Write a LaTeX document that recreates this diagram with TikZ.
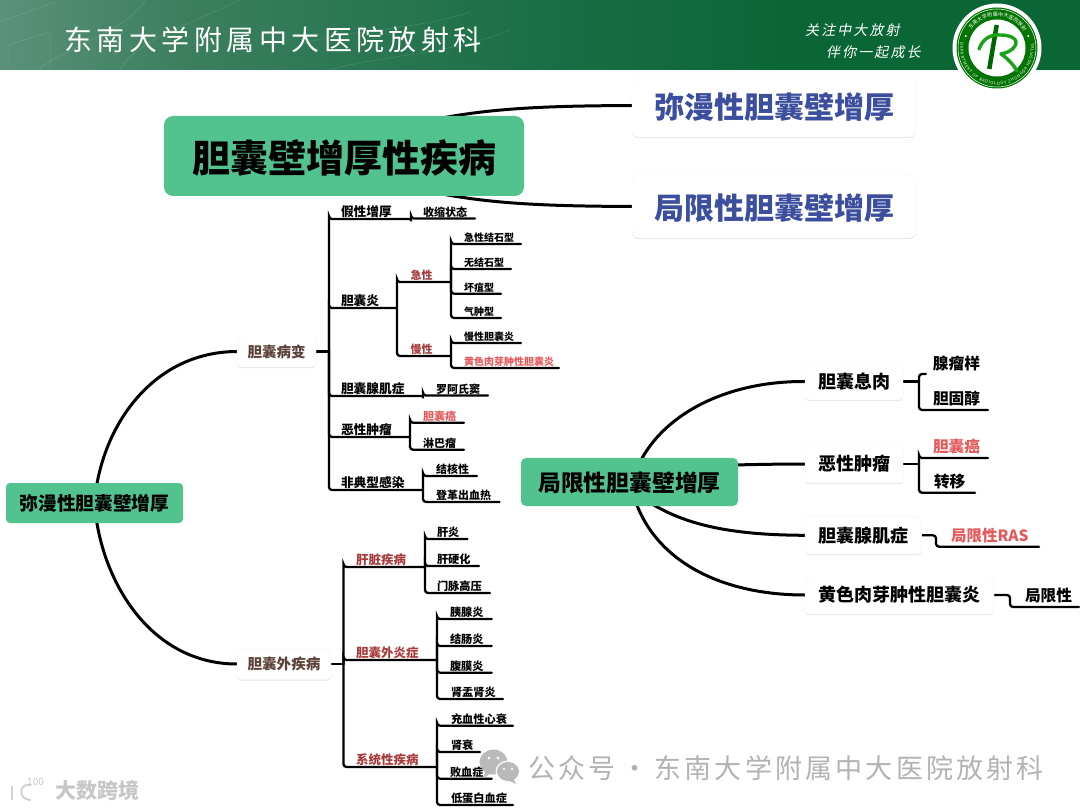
\documentclass[tikz,border=0pt]{standalone}
\usepackage{fontspec}
\setmainfont{Noto Sans CJK SC}
\newfontfamily\titlef[LetterSpace=16]{Noto Sans CJK SC}
\newfontfamily\slogf[LetterSpace=15,FakeSlant=0.2]{Noto Sans CJK SC}
\newfontfamily\markf[LetterSpace=11.8]{Noto Sans CJK SC}
\usetikzlibrary{shadows,backgrounds,decorations.text}
\definecolor{mint}{HTML}{52C28F}
\definecolor{deepblue}{HTML}{3B4F9E}
\definecolor{brick}{HTML}{A83C3C}
\definecolor{coral}{HTML}{E45A5A}
\definecolor{umber}{HTML}{5C4238}
\definecolor{wmgrey}{HTML}{B2B2B2}
\definecolor{hA}{HTML}{5A917A}
\definecolor{hB}{HTML}{3C7F5F}
\definecolor{hC}{HTML}{1A6F46}
\definecolor{hD}{HTML}{0B6636}
\newcommand{\fs}[1]{\fontsize{#1}{#1}\selectfont}
\tikzset{
  link/.style={line width=2.3pt,black,rounded corners=3pt,line cap=round},
  trunk/.style={line width=3pt,black},
  mintbox/.style={fill=mint,rounded corners=#1,inner sep=0pt,text=black},
  mintbox/.default=5pt,
  whitebox/.style={fill=white,rounded corners=#1,inner sep=0pt,draw=black!4,
    drop shadow={shadow xshift=0pt,shadow yshift=-1.2pt,opacity=.10,fill=black}},
  whitebox/.default=4pt,
  leafnode/.style={anchor=south west,inner xsep=0pt,outer sep=0pt},
  plain/.style={inner sep=0pt}
}
% name, x-left, x-right, y-line, text-x, size, text colour, text
\newcommand{\lf}[8]{%
  \pgfmathsetlengthmacro{\lfw}{#3-#2}%
  \pgfmathsetlengthmacro{\lfd}{#5-#2}%
  \pgfmathsetlengthmacro{\lfy}{1.2+max(0,#6-12)*0.7}%
  \node[leafnode,inner ysep=\lfy,text=#7,font=\fs{#6}\bfseries] (#1) at (#2,#4)
    {\makebox[\lfw][l]{\hspace*{\lfd}#8}};}
\newcommand{\fan}[2]{\foreach \c in {#2}{\draw[link] (#1) |- (\c.south west) -- (\c.south east);}}
\begin{document}
\begin{tikzpicture}[x=1pt,y=-1pt]
\useasboundingbox (0,0) rectangle (1080,810);
% header band
\shade[left color=hA,right color=hB] (0,0) rectangle (180.5,70);
\shade[left color=hB,right color=hC] (180,0) rectangle (540.5,70);
\shade[left color=hC,right color=hD] (540,0) rectangle (780.5,70);
\fill[hD] (780,0) rectangle (1080,70);
\begin{scope}[white,opacity=.10,line width=.8pt]
  \draw (0,22) -- (55,2);
  \draw (8,70) -- (8,45) -- (50,32) -- (50,70);
  \draw (38,70) .. controls (60,50) and (130,30) .. (145,0);
  \draw (120,70) .. controls (135,40) and (200,20) .. (240,0);
  \draw (300,45) .. controls (340,30) and (420,30) .. (470,12);
  \draw (330,70) .. controls (380,55) and (450,55) .. (510,30);
\end{scope}
\node[plain,anchor=west,text=white,font=\titlef\fs{28}] (hosp) at (64,40) {东南大学附属中大医院放射科};
\node[plain,anchor=west,text=white,font=\slogf\fs{14}] (sloganA) at (805,30) {关注中大放射};
\node[plain,anchor=west,text=white,font=\slogf\fs{14}] (sloganB) at (826,52) {伴你一起成长};
% logo
\begin{scope}[shift={(997,48)},x=1pt,y=1pt]
  \fill[white] (0,0) circle (44.5pt);
  \fill[green!45!black] (0,0) circle (40.5pt);
  \draw[white,line width=.5pt] (0,0) circle (39pt);
  \fill[white] (0,0) circle (28.5pt);
  \path[decorate,decoration={text along path,text align={fit to path},
     text={|\color{white}\fs{5.2}|东南大学附属中大医院放射科}}]
     (145:31.5) arc[start angle=145,end angle=35,radius=31.5pt];
  \path[decorate,decoration={text along path,text align={fit to path},
     text={|\color{white}\fs{4.2}|DEPARTMENT OF RADIOLOGY ZHONGDA HOSPITAL}}]
     (172:37) arc[start angle=172,end angle=368,radius=37pt];
  \fill[white] (159:33.5) circle (1.2pt);
  \fill[white] (21:33.5) circle (1.2pt);
  \draw[green!40!black,line width=4.5pt] (-.3,23) -- (-7.7,-21);
  \draw[green!60!black!90,line width=3.4pt,line cap=round,line join=round]
    (-18,-1) .. controls (-14,10) and (-5,14) .. (3,13) .. controls (14,13) and (22,9) .. (18,2)
    .. controls (15,-3) and (9,-5) .. (4,-6) .. controls (10,-10) and (16,-16) .. (20,-23);
\end{scope}

% main boxes
\node[mintbox=9pt,minimum width=360pt,minimum height=80pt,text height=36pt,text depth=3.2pt,font=\fs{38}\bfseries] (main) at (344,156) {胆囊壁增厚性疾病};
\node[whitebox=7pt,minimum width=284pt,minimum height=63pt,text height=30pt,text depth=3.2pt,text=deepblue,font=\fs{30}\bfseries] (topA) at (774,105.5) {弥漫性胆囊壁增厚};
\node[whitebox=7pt,minimum width=284pt,minimum height=63pt,text height=30pt,text depth=3.2pt,text=deepblue,font=\fs{30}\bfseries] (topB) at (774,206.5) {局限性胆囊壁增厚};
\node[mintbox=4pt,minimum width=177pt,minimum height=40pt,font=\fs{18.7}\bfseries] (diff) at (94.5,503) {弥漫性胆囊壁增厚};
\node[mintbox=5pt,minimum width=217pt,minimum height=48pt,text height=22pt,text depth=2.6pt,font=\fs{22.8}\bfseries] (loc) at (629.5,482) {局限性胆囊壁增厚};

% left: gallbladder lesions
\node[whitebox,minimum width=79pt,minimum height=31pt,text=umber,font=\fs{14.5}\bfseries] (bian) at (276.5,351.5) {胆囊病变};
\node[whitebox,minimum width=94pt,minimum height=31pt,text=umber,font=\fs{14.6}\bfseries] (wai) at (284,664) {胆囊外疾病};
\coordinate (bianJ) at (329,351.5);
\coordinate (waiJ) at (343.5,664);

\lf{jia}{329}{411}{219}{341}{12.7}{black}{假性增厚}
\lf{shou}{411}{475}{218.5}{423}{11}{black}{收缩状态}
\lf{yan}{329}{397}{308}{341}{12.7}{black}{胆囊炎}
\lf{ji}{397}{451}{282}{410.5}{11}{brick}{急性}
\lf{man}{397}{451}{356}{410.5}{11}{brick}{慢性}
\lf{jjs}{451}{521}{244}{464}{10}{black}{急性结石型}
\lf{wjs}{451}{511}{269}{464}{10}{black}{无结石型}
\lf{hj}{451}{501}{293.7}{464}{10}{black}{坏疽型}
\lf{qz}{451}{501}{318}{464}{10}{black}{气肿型}
\lf{mxd}{451}{521}{343}{464}{10}{black}{慢性胆囊炎}
\lf{hs}{451}{559}{368}{464}{10}{coral}{黄色肉芽肿性胆囊炎}
\lf{xj}{329}{423}{396}{341}{12.7}{black}{胆囊腺肌症}
\lf{law}{423}{488}{395.5}{436}{11}{black}{罗阿氏窦}
\lf{ex}{329}{410}{437}{341}{12.7}{black}{恶性肿瘤}
\lf{da}{410}{464}{422.7}{423}{11}{coral}{胆囊癌}
\lf{lb}{410}{464}{449.7}{423}{11}{black}{淋巴瘤}
\lf{fd}{329}{423}{490}{341}{12.7}{black}{非典型感染}
\lf{jh}{423}{477}{476}{436}{11}{black}{结核性}
\lf{dg}{423}{499.5}{502}{436}{11}{black}{登革出血热}

% left: extra-gallbladder
\lf{gz}{343.5}{425}{567}{356}{12.5}{brick}{肝脏疾病}
\lf{wy}{343.5}{437}{660}{356}{12.5}{brick}{胆囊外炎症}
\lf{xt}{343.5}{437}{767}{356}{12.5}{brick}{系统性疾病}
\lf{gy}{425}{467.5}{539}{437}{11.2}{black}{肝炎}
\lf{gyh}{425}{479}{566}{437}{11.2}{black}{肝硬化}
\lf{mm}{425}{490}{593}{437}{11.2}{black}{门脉高压}
\lf{yx}{437}{491.7}{619}{450}{11.2}{black}{胰腺炎}
\lf{jc}{437}{491.7}{646}{450}{11.2}{black}{结肠炎}
\lf{fm}{437}{491.7}{672.7}{450}{11.2}{black}{腹膜炎}
\lf{sy}{437}{503}{699}{451}{11.2}{black}{肾盂肾炎}
\lf{cx}{437}{513}{725.7}{451}{11.2}{black}{充血性心衰}
\lf{ss}{437}{480}{752}{451}{11.2}{black}{肾衰}
\lf{bx}{437}{491.7}{778.7}{450}{11.2}{black}{败血症}
\lf{dd}{437}{513}{805}{451}{11.2}{black}{低蛋白血症}

% right: focal
\node[whitebox=4pt,minimum width=98pt,minimum height=37pt,font=\fs{18}\bfseries] (xr) at (854,381.5) {胆囊息肉};
\node[whitebox=4pt,minimum width=98pt,minimum height=38pt,font=\fs{18}\bfseries] (ez) at (854,464) {恶性肿瘤};
\node[whitebox=4pt,minimum width=116.6pt,minimum height=37.4pt,font=\fs{18}\bfseries] (xa) at (863.3,535.3) {胆囊腺肌症};
\node[whitebox=4pt,minimum width=189pt,minimum height=38pt,font=\fs{18}\bfseries] (hu) at (899.5,595) {黄色肉芽肿性胆囊炎};
\coordinate (xrJ) at (919,381.5);
\coordinate (ezJ) at (919,464);
\coordinate (xlE) at (926,374);
\node[plain,font=\fs{15.7}\bfseries] (xl) at (956.5,364) {腺瘤样};
\lf{dgc}{919}{988}{410}{933}{15.7}{black}{胆固醇}
\lf{ada}{919}{988}{458}{933}{15.7}{coral}{胆囊癌}
\lf{zy}{919}{975}{492.7}{934}{15.7}{black}{转移}
\lf{ras}{936}{1039}{546.7}{951}{15.5}{coral}{局限性RAS}
\lf{jx}{1010}{1079}{607}{1025}{15.7}{black}{局限性}
\coordinate (locA) at (632,482);
\coordinate (locB) at (700,466);
\coordinate (locC) at (640,496);
\coordinate (locD) at (632,490);
\coordinate (mainA) at (400,128);
\coordinate (mainB) at (400,184);

\begin{pgfonlayer}{background}
  \draw[trunk] (topA.west) .. controls (540,106) and (470,108) .. (mainA);
  \draw[trunk] (topB.west) .. controls (540,206) and (470,204) .. (mainB);
  \draw[trunk] (bian.west) .. controls (150,352) and (100,430) .. (diff.center);
  \draw[trunk] (wai.west) .. controls (150,664) and (100,580) .. (diff.center);
  \draw[trunk] (xr.west) .. controls (720,381) and (650,420) .. (locA);
  \draw[trunk] (ez.west) .. controls (770,464) and (730,465) .. (locB);
  \draw[trunk] (xa.west) .. controls (730,535) and (680,525) .. (locC);
  \draw[trunk] (hu.west) .. controls (720,595) and (650,560) .. (locD);
  \draw[link] (bian.east) -- (bianJ);
  \draw[link] (wai.east) -- (waiJ);
  \fan{bianJ}{jia,yan,xj,ex,fd}
  \fan{jia.south east}{shou}
  \fan{yan.south east}{ji,man}
  \fan{ji.south east}{jjs,wjs,hj,qz}
  \fan{man.south east}{mxd,hs}
  \fan{xj.south east}{law}
  \fan{ex.south east}{da,lb}
  \fan{fd.south east}{jh,dg}
  \fan{waiJ}{gz,wy,xt}
  \fan{gz.south east}{gy,gyh,mm}
  \fan{wy.south east}{yx,jc,fm,sy}
  \fan{xt.south east}{cx,ss,bx,dd}
  \draw[link] (xr.east) -- (xrJ);
  \draw[link] (ez.east) -- (ezJ);
  \draw[link] (xrJ) |- (xlE);
  \fan{xrJ}{dgc}
  \fan{ezJ}{ada,zy}
  \draw[link] (xa.east) -| (ras.south west) -- (ras.south east);
  \draw[link] (hu.east) -| (jx.south west) -- (jx.south east);
\end{pgfonlayer}

% watermarks
\begin{scope}[opacity=.9]
  \fill[wmgrey] (493.5,762) ellipse[x radius=14pt,y radius=12.5pt];
  \fill[wmgrey] (485,771) -- (484,778) -- (491,773) -- cycle;
  \fill[white] (489,758) circle (1.6pt) (498,758) circle (1.6pt);
  \fill[white] (508,771.5) ellipse[x radius=12.5pt,y radius=11pt];
  \fill[wmgrey] (508,771.5) ellipse[x radius=11pt,y radius=9.5pt];
  \fill[wmgrey] (513,778) -- (516,784) -- (508,780) -- cycle;
  \fill[white] (504,769) circle (1.4pt) (512,769) circle (1.4pt);
\end{scope}
\node[plain,anchor=west,text=wmgrey,font=\markf\fs{27}] (wm) at (528,768) {公众号\hspace{6pt}·\hspace{6pt}东南大学附属中大医院放射科};
\begin{scope}[black!18,line width=2pt]
  \draw (12,786) -- (12,800);
  \draw (31,785) .. controls (19,782) and (17,800) .. (31,800);
\end{scope}
\node[plain,anchor=west,text=black!22,font=\fs{10}] (hundred) at (27,782) {100};
\node[plain,anchor=west,text=black!22,font=\fs{21}\bfseries] (cross) at (55,790) {大数跨境};
\end{tikzpicture}
\end{document}
